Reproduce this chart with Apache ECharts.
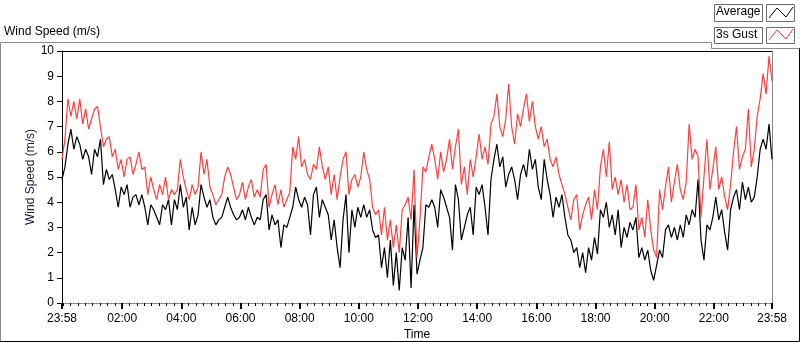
<!DOCTYPE html>
<html>
<head>
<meta charset="utf-8">
<script src="https://cdn.jsdelivr.net/npm/echarts@6/dist/echarts.min.js"></script>
<style>
  html, body { margin: 0; padding: 0; background: #fff; }
  #wind_chart { width: 800px; height: 342px; }
</style>
</head>
<body>
<div id="wind_chart"></div>
<script>
// Chart data
// ------------------------------

// sample step in minutes after 23:58
var stepMinutes = 6;

// Average wind speed (m/s)
var avgSpeed = [
    4.9, 5.4, 6.3, 6.9, 6.1, 6.6, 6.3, 5.7, 6.1, 5.8,
    5.1, 6.1, 5.8, 6.5, 4.7, 5.3, 4.9, 5.1, 4.5, 3.8,
    4.6, 4.3, 4.7, 3.8, 4.2, 4.3, 3.9, 4.3, 3.8, 3.1,
    3.9, 3.7, 3.4, 3.1, 3.9, 3.7, 4.1, 3.1, 4.1, 3.7,
    4.7, 3.8, 4.2, 2.9, 3.8, 3.1, 3.5, 4.7, 4.2, 3.8,
    4.1, 3.4, 3.1, 3.3, 3.4, 3.8, 4.2, 3.8, 3.5, 3.3,
    3.4, 3.7, 3.3, 3.8, 3.4, 3.1, 3.4, 3.3, 4.1, 4.3,
    2.9, 3.5, 3.1, 3.3, 2.2, 3.1, 3.0, 3.4, 3.8, 4.6,
    4.1, 3.8, 4.2, 3.9, 2.7, 4.3, 4.6, 3.4, 4.1, 3.8,
    3.5, 2.5, 3.3, 2.2, 1.4, 3.3, 4.3, 2.0, 3.7, 3.0,
    3.8, 3.4, 3.9, 3.4, 3.7, 2.9, 2.6, 2.7, 1.4, 2.2,
    1.0, 2.5, 0.7, 2.0, 0.5, 2.2, 1.7, 3.4, 0.6, 3.9,
    1.15, 1.7, 2.2, 3.9, 3.8, 4.1, 3.8, 3.0, 4.5, 4.2,
    3.8, 3.4, 2.1, 4.7, 4.1, 2.5, 3.0, 3.5, 3.8, 2.7,
    4.6, 4.3, 4.7, 3.8, 2.7, 4.9, 5.7, 6.3, 5.4, 5.8,
    4.6, 5.1, 5.4, 4.9, 4.1, 5.1, 5.5, 5.0, 6.1, 5.3,
    5.7, 4.6, 4.1, 5.7, 4.9, 4.3, 3.4, 4.2, 3.8, 4.3,
    3.4, 2.7, 2.5, 2.0, 2.2, 1.4, 2.0, 1.2, 2.2, 1.7,
    2.6, 1.95, 3.7, 3.4, 4.0, 3.0, 3.5, 2.7, 3.7, 2.2,
    3.0, 2.6, 3.2, 2.9, 3.4, 1.8, 2.2, 1.7, 2.1, 1.3,
    0.9, 1.5, 2.1, 1.8, 2.9, 3.1, 2.6, 3.0, 2.5, 3.1,
    2.6, 3.5, 3.1, 3.7, 3.4, 4.9, 2.5, 1.7, 3.1, 2.9,
    3.4, 4.2, 3.3, 3.7, 2.8, 2.1, 3.7, 4.2, 4.5, 3.7,
    4.8, 4.1, 4.6, 4.0, 4.2, 5.0, 6.1, 6.5, 6.1, 7.1,
    5.7
];

// 3s gust wind speed (m/s)
var gustSpeed = [
    5.7, 6.5, 8.1, 7.4, 8.0, 7.3, 8.1, 7.1, 7.7, 6.9,
    7.3, 7.7, 7.8, 7.0, 6.2, 6.5, 6.6, 5.8, 6.1, 5.3,
    5.7, 5.0, 5.7, 5.8, 5.1, 5.5, 6.0, 5.3, 5.4, 4.3,
    5.0, 4.5, 4.1, 4.7, 4.3, 5.0, 4.1, 4.5, 4.3, 4.5,
    5.7, 5.0, 4.5, 4.1, 4.7, 4.3, 4.6, 6.0, 5.1, 5.7,
    4.6, 4.3, 3.9, 4.1, 4.3, 5.0, 5.4, 5.1, 4.6, 4.1,
    4.3, 4.8, 4.1, 4.6, 4.9, 4.2, 4.5, 4.2, 5.3, 5.5,
    3.8, 4.3, 4.7, 3.9, 4.5, 3.8, 4.1, 4.4, 6.2, 5.7,
    6.6, 5.4, 5.7, 5.1, 4.9, 5.5, 5.3, 6.2, 5.4, 4.9,
    5.4, 4.3, 5.1, 4.1, 5.0, 5.7, 6.0, 4.3, 4.9, 5.1,
    4.6, 5.0, 6.0, 5.3, 4.9, 3.8, 3.5, 3.7, 2.7, 3.8,
    2.5, 3.3, 2.2, 3.1, 2.0, 3.7, 3.9, 4.2, 3.3, 5.3,
    1.8, 3.3, 5.4, 5.2, 5.8, 6.3, 5.7, 4.9, 6.0, 5.2,
    5.7, 6.5, 5.3, 6.2, 6.9, 4.7, 5.4, 4.3, 5.7, 5.0,
    5.8, 6.7, 5.7, 6.2, 5.5, 7.1, 7.4, 8.3, 7.0, 6.6,
    7.3, 8.7, 7.0, 6.3, 7.5, 7.0, 7.7, 8.3, 7.2, 8.0,
    7.0, 6.5, 7.0, 6.2, 6.5, 5.7, 5.4, 5.8, 5.1, 4.7,
    4.3, 3.8, 3.3, 4.1, 4.3, 2.9, 3.5, 3.9, 4.2, 3.3,
    4.5, 3.7, 5.4, 6.1, 5.0, 6.4, 4.5, 5.0, 4.3, 4.9,
    4.0, 4.7, 3.7, 3.8, 4.7, 2.9, 3.4, 2.6, 4.1, 2.9,
    2.1, 1.8, 4.5, 3.7, 4.6, 5.4, 4.0, 4.8, 5.5, 4.5,
    4.1, 4.8, 7.1, 5.7, 6.1, 5.8, 3.4, 5.0, 6.5, 4.5,
    5.3, 6.2, 4.5, 5.0, 4.2, 3.7, 4.7, 6.0, 7.0, 5.3,
    5.8, 6.1, 7.7, 5.4, 6.1, 7.4, 8.1, 9.1, 8.3, 9.8,
    8.8
];

// X axis tick positions (minutes after 23:58) and their labels
var timeTicks = [0, 122, 242, 362, 482, 602, 722, 842, 962, 1082, 1202, 1322, 1440];
var timeLabels = ['23:58', '02:00', '04:00', '06:00', '08:00', '10:00', '12:00',
                  '14:00', '16:00', '18:00', '20:00', '22:00', '23:58'];

// Y axis range
var speedMin = 0;
var speedMax = 10;


// Setup
// ------------------------------

var fontFamily = 'Liberation Sans, Arial, sans-serif';

var toPairs = function(values) {
    return values.map(function(v, i) {
        return [i * stepMinutes, v];
    });
};

// minor ticks every 15 minutes from 00:00
var minorTicks = [];
for (var m = 2; m <= 1440; m += 15) {
    minorTicks.push(m);
}

var chart_element = document.getElementById('wind_chart');
var wind_chart = echarts.init(chart_element, null, { renderer: 'canvas' });

wind_chart.setOption({
    animation: false,
    backgroundColor: '#fff',
    textStyle: {
        fontFamily: fontFamily,
        fontSize: 12
    },

    grid: {
        left: 62,
        right: 28,
        top: 51,
        bottom: 39,
        containLabel: false,
        outerBoundsMode: 'none'
    },

    // frame, title and legend boxes
    graphic: [
        {
            type: 'polyline',
            silent: true,
            shape: { points: [[0.5, 341], [0.5, 42.5], [711.5, 42.5], [711.5, 48.5], [800, 48.5]] },
            style: { stroke: '#8a8a8a', lineWidth: 1, fill: null }
        },
        {
            type: 'polyline',
            silent: true,
            shape: { points: [[799.5, 48.5], [799.5, 341.5], [0, 341.5]] },
            style: { stroke: '#000', lineWidth: 1, fill: null }
        },
        {
            type: 'text',
            left: 4,
            top: 26,
            style: { text: 'Wind Speed (m/s)', fill: '#000', font: '12px ' + fontFamily }
        },
        // legend: Average
        {
            type: 'rect',
            silent: true,
            shape: { x: 714.5, y: 4.5, width: 48, height: 17 },
            style: { stroke: '#6e6e6e', fill: '#fff', lineWidth: 1 }
        },
        {
            type: 'text',
            left: 716,
            top: 6,
            style: { text: 'Average', fill: '#000', font: '12px ' + fontFamily }
        },
        {
            type: 'rect',
            silent: true,
            shape: { x: 766.5, y: 4.5, width: 28, height: 17 },
            style: { stroke: '#6e6e6e', fill: '#fff', lineWidth: 1 }
        },
        {
            type: 'polyline',
            silent: true,
            shape: { points: [[769, 18], [777, 8], [786, 17], [793, 7]] },
            style: { stroke: '#000', lineWidth: 1, fill: null }
        },
        // legend: 3s Gust
        {
            type: 'rect',
            silent: true,
            shape: { x: 714.5, y: 27.5, width: 48, height: 16 },
            style: { stroke: '#6e6e6e', fill: '#fff', lineWidth: 1 }
        },
        {
            type: 'text',
            left: 716,
            top: 29,
            style: { text: '3s Gust', fill: '#000', font: '12px ' + fontFamily }
        },
        {
            type: 'rect',
            silent: true,
            shape: { x: 766.5, y: 27.5, width: 28, height: 16 },
            style: { stroke: '#6e6e6e', fill: '#fff', lineWidth: 1 }
        },
        {
            type: 'polyline',
            silent: true,
            shape: { points: [[769, 40], [777, 30], [786, 39], [793, 29]] },
            style: { stroke: '#ff3b3b', lineWidth: 1, fill: null }
        },
        // top and right border of the plot area
        {
            type: 'line',
            silent: true,
            shape: { x1: 62, y1: 51.5, x2: 772, y2: 51.5 },
            style: { stroke: '#000', lineWidth: 1 }
        },
        {
            type: 'line',
            silent: true,
            shape: { x1: 772.5, y1: 51, x2: 772.5, y2: 303 },
            style: { stroke: '#8a8a8a', lineWidth: 1 }
        }
    ],

    xAxis: [
        {
            type: 'value',
            min: 0,
            max: 1440,
            name: 'Time',
            nameLocation: 'middle',
            nameGap: 26,
            nameMoveOverlap: false,
            nameTextStyle: { color: '#000', fontSize: 12, fontFamily: fontFamily },
            axisLine: { show: true, onZero: false, lineStyle: { color: '#8a8a8a', width: 1 } },
            axisTick: {
                show: true,
                customValues: timeTicks,
                length: 6,
                lineStyle: { color: '#000', width: 2 }
            },
            axisLabel: {
                show: true,
                customValues: timeTicks,
                margin: 10,
                color: '#000',
                fontSize: 12,
                fontFamily: fontFamily,
                formatter: function(v) {
                    var idx = timeTicks.indexOf(Math.round(v));
                    return idx >= 0 ? timeLabels[idx] : '';
                }
            },
            splitLine: { show: false }
        },
        {
            type: 'value',
            min: 0,
            max: 1440,
            position: 'bottom',
            axisLine: { show: false },
            axisTick: {
                show: true,
                customValues: minorTicks,
                length: 3,
                lineStyle: { color: '#000', width: 1 }
            },
            axisLabel: { show: false },
            splitLine: { show: false }
        }
    ],

    yAxis: {
        type: 'value',
        min: speedMin,
        max: speedMax,
        interval: 1,
        name: 'Wind Speed (m/s)',
        nameLocation: 'middle',
        nameGap: 25,
        nameMoveOverlap: false,
        nameRotate: 90,
        nameTextStyle: { color: '#1a1a3a', fontSize: 12, fontFamily: fontFamily },
        axisLine: { show: true, onZero: false, lineStyle: { color: '#000', width: 1 } },
        axisTick: { show: true, length: 5, lineStyle: { color: '#000', width: 1 } },
        axisLabel: { margin: 8, color: '#000', fontSize: 12, fontFamily: fontFamily },
        splitLine: { show: false }
    },

    series: [
        {
            name: 'Average',
            type: 'line',
            xAxisIndex: 0,
            symbol: 'none',
            lineStyle: { color: '#000', width: 1.2 },
            data: toPairs(avgSpeed)
        },
        {
            name: '3s Gust',
            type: 'line',
            xAxisIndex: 0,
            symbol: 'none',
            lineStyle: { color: '#ff4040', width: 1.2 },
            data: toPairs(gustSpeed)
        }
    ]
});
</script>
</body>
</html>
